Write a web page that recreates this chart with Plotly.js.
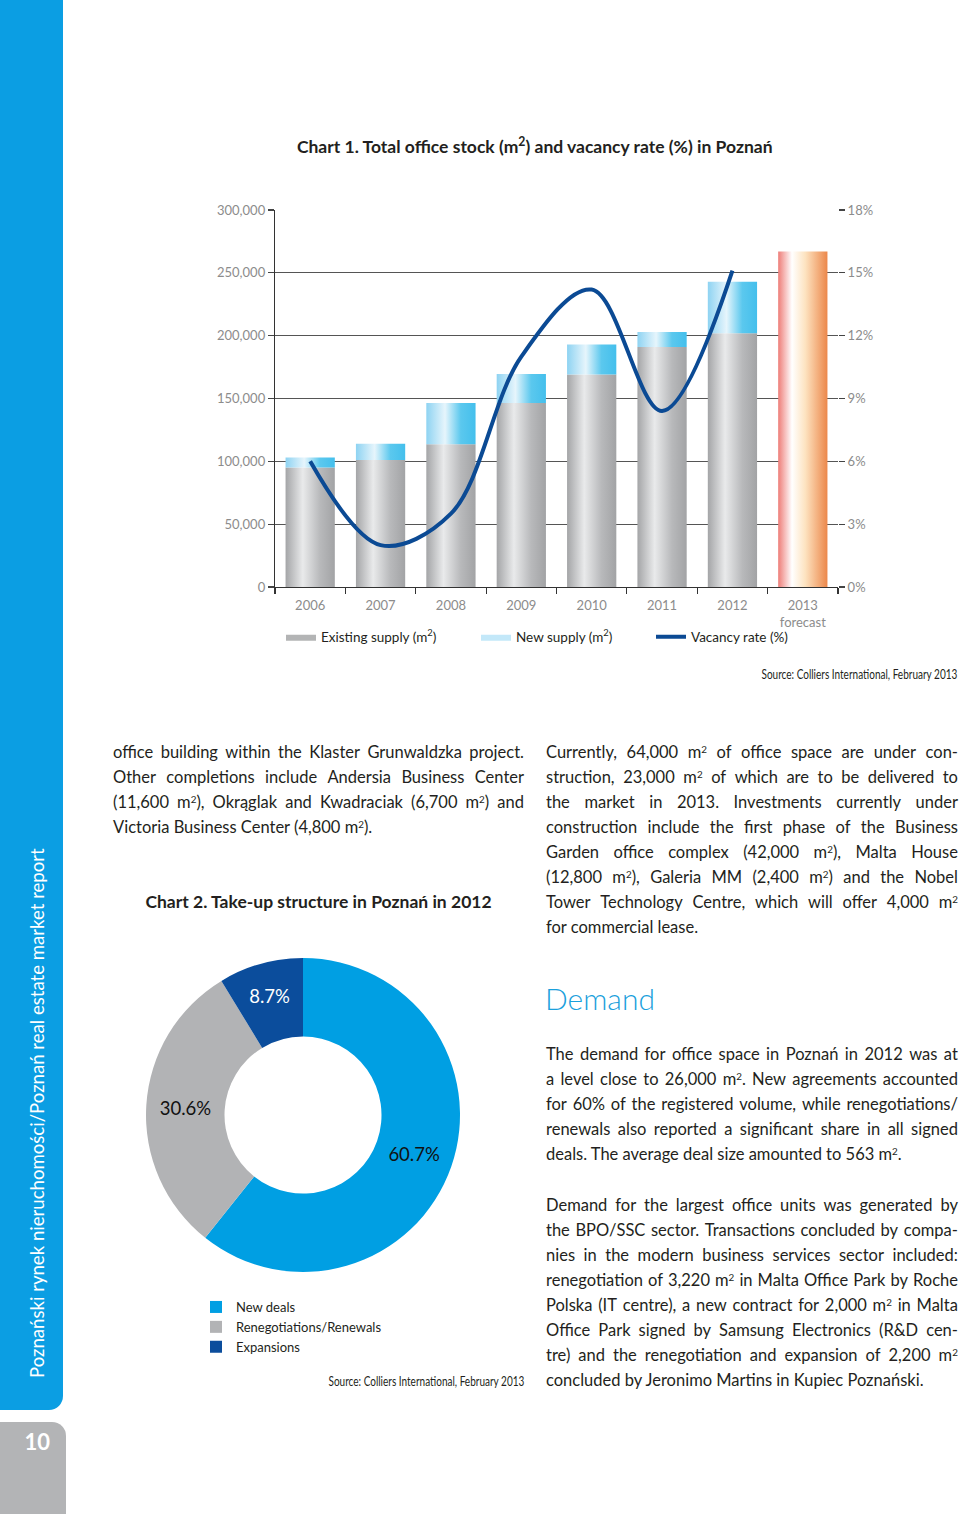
<!DOCTYPE html>
<html>
<head>
<meta charset="utf-8">
<script src="https://cdn.plot.ly/plotly-3.0.1.min.js"></script>
<style>
  body { margin: 0; width: 960px; height: 1514px; position: relative; background: #fff; font-family: Lato, "Open Sans", sans-serif; color: #231f20; overflow: hidden; }
  #sidebar { position: absolute; left: 0; top: 0; width: 63px; height: 1410px; background: #0b9ee3; border-bottom-right-radius: 14px; }
  #side-text { position: absolute; left: 25px; top: 845px; height: 533px; width: 24px; writing-mode: vertical-rl; transform: rotate(180deg); color: #fff; font-size: 18.6px; line-height: 24px; white-space: nowrap; }
  #pagenum { position: absolute; left: 0; top: 1422px; width: 66px; height: 92px; background: #b3b4b6; border-top-right-radius: 14px; }
  #pagenum span { position: absolute; right: 16px; top: 6px; color: #fff; font-size: 22px; font-weight: bold; }
  #chart1 { position: absolute; left: 150px; top: 110px; width: 810px; height: 600px; }
  #chart2 { position: absolute; left: 113px; top: 880px; width: 420px; height: 520px; }
  .para { position: absolute; font-size: 16.5px; line-height: 25px; }
  .para .j { display: flex; justify-content: space-between; white-space: nowrap; }
  .para .l { white-space: nowrap; }
  sup { font-size: 0.6em; vertical-align: 0.5em; line-height: 0; }
  .source { position: absolute; font-size: 13px; white-space: nowrap; transform: scaleX(0.77); transform-origin: right center; text-align: right; }
  #demand { position: absolute; left: 545px; top: 978px; font-size: 30px; font-weight: 300; color: #1aa0dc; line-height: 40px; }
</style>
</head>
<body>
<div id="sidebar"></div>
<div id="side-text">Poznański rynek nieruchomości/Poznań real estate market report</div>
<div id="pagenum"><span>10</span></div>
<div id="chart1"></div>
<div id="chart2"></div>
<div class="source" style="right:3px; top:666px;">Source: Colliers International, February 2013</div>
<div class="source" style="right:436px; top:1373px;">Source: Colliers International, February 2013</div>
<div id="demand">Demand</div>
<div id="col1" class="para" style="left:113px; top:740px; width:411px;"></div>
<div id="col2a" class="para" style="left:546px; top:740px; width:412px;"></div>
<div id="col2b" class="para" style="left:546px; top:1042px; width:412px;"></div>
<div id="col2c" class="para" style="left:546px; top:1193px; width:412px;"></div>
<script>
// Chart 1 data
const years = ['2006', '2007', '2008', '2009', '2010', '2011', '2012', '2013<br>forecast'];
const existingSupply = [95000, 101000, 113500, 146500, 169000, 191000, 202000];
const newSupply = [8000, 13000, 33000, 23000, 24000, 12000, 41000];
const forecastStock = 267000; // 2013 forecast total
const vacancyRate = [6.0, 2.0, 3.5, 11.0, 14.2, 8.4, 15.1];

// Chart 2 data
const takeupLabels = ['New deals', 'Renegotiations/Renewals', 'Expansions'];
const takeupShares = [60.7, 30.6, 8.7];

// text columns (one string per printed line)
const col1Lines = [
    'office building within the Klaster Grunwaldzka project.',
    'Other completions include Andersia Business Center',
    '(11,600 m<sup>2</sup>), Okrąglak and Kwadraciak (6,700 m<sup>2</sup>) and',
    'Victoria Business Center (4,800 m<sup>2</sup>).'
];
const col2aLines = [
    'Currently, 64,000 m<sup>2</sup> of office space are under con-',
    'struction, 23,000 m<sup>2</sup> of which are to be delivered to',
    'the market in 2013. Investments currently under',
    'construction include the first phase of the Business',
    'Garden office complex (42,000 m<sup>2</sup>), Malta House',
    '(12,800 m<sup>2</sup>), Galeria MM (2,400 m<sup>2</sup>) and the Nobel',
    'Tower Technology Centre, which will offer 4,000 m<sup>2</sup>',
    'for commercial lease.'
];
const col2bLines = [
    'The demand for office space in Poznań in 2012 was at',
    'a level close to 26,000 m<sup>2</sup>. New agreements accounted',
    'for 60% of the registered volume, while renegotiations/',
    'renewals also reported a significant share in all signed',
    'deals. The average deal size amounted to 563 m<sup>2</sup>.'
];
const col2cLines = [
    'Demand for the largest office units was generated by',
    'the BPO/SSC sector. Transactions concluded by compa-',
    'nies in the modern business services sector included:',
    'renegotiation of 3,220 m<sup>2</sup> in Malta Office Park by Roche',
    'Polska (IT centre), a new contract for 2,000 m<sup>2</sup> in Malta',
    'Office Park signed by Samsung Electronics (R&amp;D cen-',
    'tre) and the renegotiation and expansion of 2,200 m<sup>2</sup>',
    'concluded by Jeronimo Martins in Kupiec Poznański.'
];

function renderColumn(id, lines) {
    const el = document.getElementById(id);
    lines.forEach((line, i) => {
        const row = document.createElement('div');
        if (i < lines.length - 1) {
            row.className = 'j';
            row.innerHTML = line.split(' ').map(w => '<span>' + w + '</span>').join('');
        } else {
            row.className = 'l';
            row.innerHTML = line;
        }
        el.appendChild(row);
    });
}

renderColumn('col1', col1Lines);
renderColumn('col2a', col2aLines);
renderColumn('col2b', col2bLines);
renderColumn('col2c', col2cLines);

const font = 'Lato, "Open Sans", sans-serif';
const grayScale = [[0, '#a4a5a7'], [0.35, '#e9eaeb'], [0.7, '#b8b9bb'], [1, '#a2a3a5']];
const cyanScale = [[0, '#8ed3f2'], [0.38, '#e6f5fc'], [0.7, '#5bc8ee'], [1, '#44bfec']];
const forecastScale = [[0, '#ee7d78'], [0.28, '#ffffff'], [0.55, '#fde3c0'], [1, '#ec874a']];
const halfW = 0.35;

function barShape(i, base, top, scale) {
    return {
        type: 'scatter',
        x: [i - halfW, i + halfW, i + halfW, i - halfW, i - halfW],
        y: [base, base, top, top, base],
        mode: 'lines',
        line: {width: 0, color: scale[1][1]},
        fill: 'toself',
        fillgradient: {type: 'horizontal', colorscale: scale},
        showlegend: false,
        hoverinfo: 'skip'
    };
}

// legend-only entries with plain swatches
function legendSwatch(name, color, legendwidth) {
    return {
        type: 'scatter', x: [null], y: [null],
        mode: 'lines', line: {width: 0, color: color},
        fill: 'toself', fillcolor: color,
        name: name, legendwidth: legendwidth, hoverinfo: 'skip'
    };
}

const traces1 = [];
existingSupply.forEach((v, i) => {
    traces1.push(barShape(i, 0, v, grayScale));
});
newSupply.forEach((v, i) => {
    traces1.push(barShape(i, existingSupply[i], existingSupply[i] + v, cyanScale));
});
traces1.push(barShape(years.length - 1, 0, forecastStock, forecastScale));
traces1.push(legendSwatch('Existing supply (m<sup>2</sup>)', '#b3b4b5', 150));
traces1.push(legendSwatch('New supply (m<sup>2</sup>)', '#c3e8f9', 130));
traces1.push({
    type: 'scatter',
    x: vacancyRate.map((v, i) => i),
    y: vacancyRate,
    yaxis: 'y2',
    mode: 'lines',
    line: {color: '#0b4a94', width: 4, shape: 'spline', smoothing: 1},
    name: 'Vacancy rate (%)',
    hoverinfo: 'skip'
});

const boundaries = years.map((y, i) => i - 0.5).concat([years.length - 0.5]);
const tickFont = {size: 13, color: '#8c8c8c'};

Plotly.newPlot('chart1', traces1, {
    width: 810,
    height: 600,
    margin: {l: 125, r: 122, t: 100, b: 123},
    paper_bgcolor: 'rgba(0,0,0,0)',
    plot_bgcolor: 'rgba(0,0,0,0)',
    font: {family: font, color: '#231f20'},
    title: {
        text: 'Chart 1. Total office stock (m<sup>2</sup>) and vacancy rate (%) in Poznań',
        font: {family: font, size: 17.5, weight: 'bold', color: '#231f20'},
        xref: 'container', x: 0.475, xanchor: 'center',
        yref: 'container', y: 1 - 37 / 600, yanchor: 'middle'
    },
    xaxis: {
        range: [-0.5, years.length - 0.5],
        tickmode: 'array',
        tickvals: years.map((y, i) => i),
        ticktext: years,
        ticks: '',
        ticklabelstandoff: 6,
        minor: {tickmode: 'array', tickvals: boundaries, ticks: 'outside', ticklen: 6, tickwidth: 1.2, tickcolor: '#333', showgrid: false},
        showline: true, linecolor: '#333', linewidth: 1.2,
        showgrid: false, zeroline: false,
        tickfont: tickFont,
        fixedrange: true
    },
    yaxis: {
        range: [0, 300000],
        tickmode: 'linear', tick0: 0, dtick: 50000,
        tickformat: ',d',
        ticks: 'outside', ticklen: 6, tickcolor: '#444', tickwidth: 1.2,
        showgrid: true, gridcolor: '#555', gridwidth: 1.2,
        showline: true, linecolor: '#333', linewidth: 1.2,
        zeroline: false,
        tickfont: tickFont,
        fixedrange: true
    },
    yaxis2: {
        overlaying: 'y', side: 'right',
        range: [0, 18],
        tickmode: 'linear', tick0: 0, dtick: 3,
        ticksuffix: '%',
        ticks: 'outside', ticklen: 6, tickcolor: '#444', tickwidth: 1.2,
        showgrid: false, zeroline: false, showline: false,
        tickfont: tickFont,
        fixedrange: true
    },
    showlegend: true,
    legend: {
        orientation: 'h',
        x: (281 - 275) / 563, xanchor: 'left',
        y: -0.0915, yanchor: 'top',
        font: {size: 13.5, color: '#231f20'},
        bgcolor: 'rgba(0,0,0,0)'
    }
}, {displayModeBar: false, staticPlot: true});

Plotly.newPlot('chart2', [{
    type: 'pie',
    labels: takeupLabels,
    values: takeupShares,
    hole: 0.5,
    sort: false,
    direction: 'clockwise',
    rotation: 0,
    marker: {colors: ['#009fe3', '#b2b3b5', '#0b4d9c'], line: {width: 0}},
    texttemplate: '%{value:.1f}%',
    textposition: 'inside',
    insidetextorientation: 'horizontal',
    textfont: {family: font, size: 18.5, color: ['#111111', '#111111', '#ffffff']},
    domain: {x: [33 / 420, 347 / 420], y: [1 - 392 / 520, 1 - 78 / 520]},
    hoverinfo: 'skip'
}], {
    width: 420,
    height: 520,
    margin: {l: 0, r: 0, t: 0, b: 0},
    paper_bgcolor: 'rgba(0,0,0,0)',
    font: {family: font, color: '#231f20'},
    title: {
        text: 'Chart 2. Take-up structure in Poznań in 2012',
        font: {family: font, size: 17.5, weight: 'bold', color: '#231f20'},
        xref: 'container', x: (318.5 - 113) / 420, xanchor: 'center',
        yref: 'container', y: 1 - 22 / 520, yanchor: 'middle'
    },
    showlegend: true,
    legend: {
        orientation: 'v',
        x: (196 - 113) / 420, xanchor: 'left',
        y: 1 - (1292 - 880) / 520, yanchor: 'top',
        font: {size: 13, color: '#231f20'},
        bgcolor: 'rgba(0,0,0,0)'
    }
}, {displayModeBar: false, staticPlot: true});
</script>
</body>
</html>
